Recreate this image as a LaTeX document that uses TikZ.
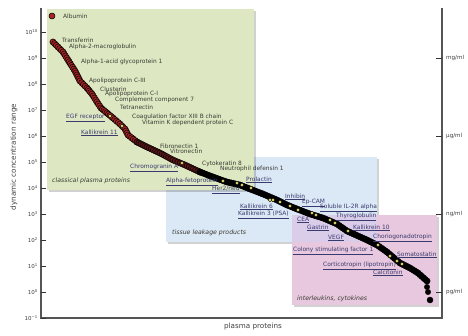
\documentclass[tikz,border=0pt]{standalone}
\usepackage{fontspec}
\setmainfont{DejaVu Sans}
\definecolor{greenbox}{HTML}{DDE8C3}
\definecolor{bluebox}{HTML}{DBE8F5}
\definecolor{pinkbox}{HTML}{E7C8DE}
\definecolor{lavbox}{HTML}{DACDEA}
\definecolor{reddot}{HTML}{A52424}
\definecolor{darkdot}{HTML}{5A1616}
\definecolor{yellowdot}{HTML}{E8E070}
\definecolor{axisgray}{HTML}{555555}
\definecolor{lbltext}{HTML}{3A3A32}
\definecolor{linktext}{HTML}{3A3A6E}
\tikzset{
  lbl/.style={anchor=west, inner sep=0pt, text=lbltext, font=\fontsize{5.9}{6.5}\selectfont},
  lnk/.style={anchor=west, inner sep=0pt, text=linktext, font=\fontsize{5.9}{6.5}\selectfont},
  grp/.style={anchor=west, inner sep=0pt, text=lbltext, font=\fontsize{6.2}{7}\itshape\selectfont},
  ticklbl/.style={anchor=east, inner sep=0pt, text=black!75, font=\fontsize{5.5}{6}\selectfont},
  unitlbl/.style={anchor=west, inner sep=0pt, text=black!75, font=\fontsize{5.6}{6}\selectfont},
  axlbl/.style={inner sep=0pt, text=black!75, font=\fontsize{7.2}{8}\selectfont},
  axisline/.style={draw=axisgray, line width=1.3pt},
  tickline/.style={draw=black!80, line width=0.9pt},
  boxshadow/.style={fill=black, fill opacity=0.18},
  bead/.style={draw=black, line width=0.5pt, fill=#1},
  ydot/.style={draw=black, line width=0.4pt, fill=yellowdot},
  bdot/.style={draw=black, line width=0.4pt, fill=black},
}
\newcommand\beadline[3]{%
  \foreach \bx/\by [count=\bc, remember=\bx as \bpx (initially 0), remember=\by as \bpy (initially 0)] in {#3} {
    \ifnum\bc=1
      \filldraw[bead=#1] (\bx,\by) circle (#2);
    \else
      \pgfmathsetmacro\bseg{veclen(\bx-\bpx,\by-\bpy)}
      \pgfmathtruncatemacro\bnb{max(1,ceil(\bseg/2.6))}
      \foreach \bi in {1,...,\bnb} {
        \pgfmathsetmacro\bt{\bi/\bnb}
        \filldraw[bead=#1] ({\bpx+\bt*(\bx-\bpx)},{\bpy+\bt*(\by-\bpy)}) circle (#2);
      }
    \fi
  }%
}
\begin{document}
\begin{tikzpicture}[x=1pt,y=-1pt]
\useasboundingbox[fill=white] (0,0) rectangle (468,335);

% boxes
\fill[boxshadow] (168,159) rectangle (379,244);
\fill[bluebox] (166,157) rectangle (377,242);
\fill[boxshadow] (49,11) rectangle (256,192);
\fill[greenbox] (47,9) rectangle (254,190);
\fill[boxshadow] (294,217) rectangle (439,307);
\fill[pinkbox] (292,215) rectangle (437,305);
\fill[lavbox] (292,215) rectangle (377,242);

% axes
\draw[axisline] (41,8) -- (41,318) -- (442,318) -- (442,8);
\foreach \k/\t in {-1/\textminus 1,0/0,1/1,2/2,3/3,4/4,5/5,6/6,7/7,8/8,9/9,10/10} {
  \draw[tickline] (41,{292-26*\k}) -- (46,{292-26*\k});
  \node[ticklbl] (t\k) at (38,{292-26*\k}) {10\textsuperscript{\t}};
}
\foreach \k/\u/\n in {9/mg\slash ml/mg,6/μg\slash ml/ug,3/ng\slash ml/ng,0/pg\slash ml/pg} {
  \draw[tickline] (436,{292-26*\k}) -- (442,{292-26*\k});
  \node[unitlbl] (u\n) at (446,{292-26*\k}) {\u};
}
\node[axlbl, rotate=90] (ylab) at (14,157) {dynamic concentration range};
\node[axlbl] (xlab) at (253,327) {plasma proteins};

% data beads
\beadline{reddot}{3.1pt}{53/42, 58/47, 63/52, 68/60, 75/71, 80/81, 87/88, 92/94, 97/102, 101/108, 107/113, 113/118, 120/124, 125/129, 128/135, 137/142}
\beadline{darkdot}{3.1pt}{137/142, 147/147, 160/153, 173/160, 185/165, 200/172}
\beadline{black}{3.1pt}{200/172, 213/177, 227/182, 240/185, 250/189, 263/194, 277/200, 287/205, 297/209, 310/214, 323/218, 337/224, 347/231, 367/240, 377/245, 387/252, 400/263, 410/268, 418/273, 427/281}
\filldraw[bead=reddot] (52,16) circle (3pt);
\filldraw[bdot] (427,287) circle (2.7pt);
\filldraw[bdot] (428,292) circle (2.7pt);
\filldraw[bdot] (430,300) circle (3pt);
\foreach \p in {(110,116),(122,126),(182,163),(223,181),(237,183),(242,185),(251,188),(270,200),(273,200),(280,202),(290,206),(298,210),(312,213),(316,215),(330,220),(335,223),(348,231),(378,245),(390,256),(397,261),(402,264)}
  \filldraw[ydot] \p circle (1.8pt);

% group labels
\node[grp] (gcls) at (52,181) {classical plasma proteins};
\node[grp] (gtis) at (172,233) {tissue leakage products};
\node[grp] (gint) at (297,299) {interleukins, cytokines};

% protein labels
\node[lbl] (alb) at (63,16) {Albumin};
\node[lbl] (trf) at (62,40) {Transferrin};
\node[lbl] (a2m) at (69,47) {Alpha-2-macroglobulin};
\node[lbl] (a1a) at (81,62) {Alpha-1-acid glycoprotein 1};
\node[lbl] (apo3) at (89,81) {Apolipoprotein C-III};
\node[lbl] (clu) at (100,89) {Clusterin};
\node[lbl] (apo1) at (105,94) {Apolipoprotein C-I};
\node[lbl] (cc7) at (115,100) {Complement component 7};
\node[lbl] (tet) at (120,107) {Tetranectin};
\node[lnk] (egf) at (66,118) {\underline{EGF receptor}};
\node[lbl] (cf13) at (132,117) {Coagulation factor XIII B chain};
\node[lbl] (vkp) at (142,123) {Vitamin K dependent protein C};
\node[lnk] (k11) at (81,133) {\underline{Kallikrein 11}};
\node[lbl] (fn1) at (160,146) {Fibronectin 1};
\node[lbl] (vtn) at (170,151) {Vitronectin};
\node[lnk] (chga) at (130,168) {\underline{Chromogranin A}};
\node[lbl] (ck8) at (202,164) {Cytokeratin 8};
\node[lbl] (nd1) at (220,169) {Neutrophil defensin 1};
\node[lnk] (afp) at (166,182) {\underline{Alpha-fetoprotein}};
\node[lnk] (prl) at (246,180) {\underline{Prolactin}};
\node[lnk] (her2) at (212,190) {\underline{Her2/neu}};
\node[lnk] (k6) at (240,207) {\underline{Kallikrein 6}};
\node[lnk] (k3) at (238,215) {\underline{Kallikrein 3 (PSA)}};
\node[lnk] (inh) at (285,197) {\underline{Inhibin}};
\node[lnk] (epcam) at (302,203) {\underline{Ep-CAM}};
\node[lnk] (il2r) at (320,208) {\underline{Soluble IL-2R alpha}};
\node[lnk] (tg) at (336,217) {\underline{Thyroglobulin}};
\node[lnk] (cea) at (297,220) {\underline{CEA}};
\node[lnk] (gas) at (307,228) {\underline{Gastrin}};
\node[lnk] (k10) at (353,228) {\underline{Kallikrein 10}};
\node[lnk] (vegf) at (328,238) {\underline{VEGF}};
\node[lnk] (cg) at (373,238) {\underline{Choriogonadotropin}};
\node[lnk] (csf1) at (293,251) {\underline{Colony stimulating factor 1}};
\node[lnk] (sst) at (397,255) {\underline{Somatostatin}};
\node[lnk] (acth) at (323,266) {\underline{Corticotropin (lipotropin)}};
\node[lnk] (calc) at (373,273) {\underline{Calcitonin}};
\end{tikzpicture}
\end{document}
